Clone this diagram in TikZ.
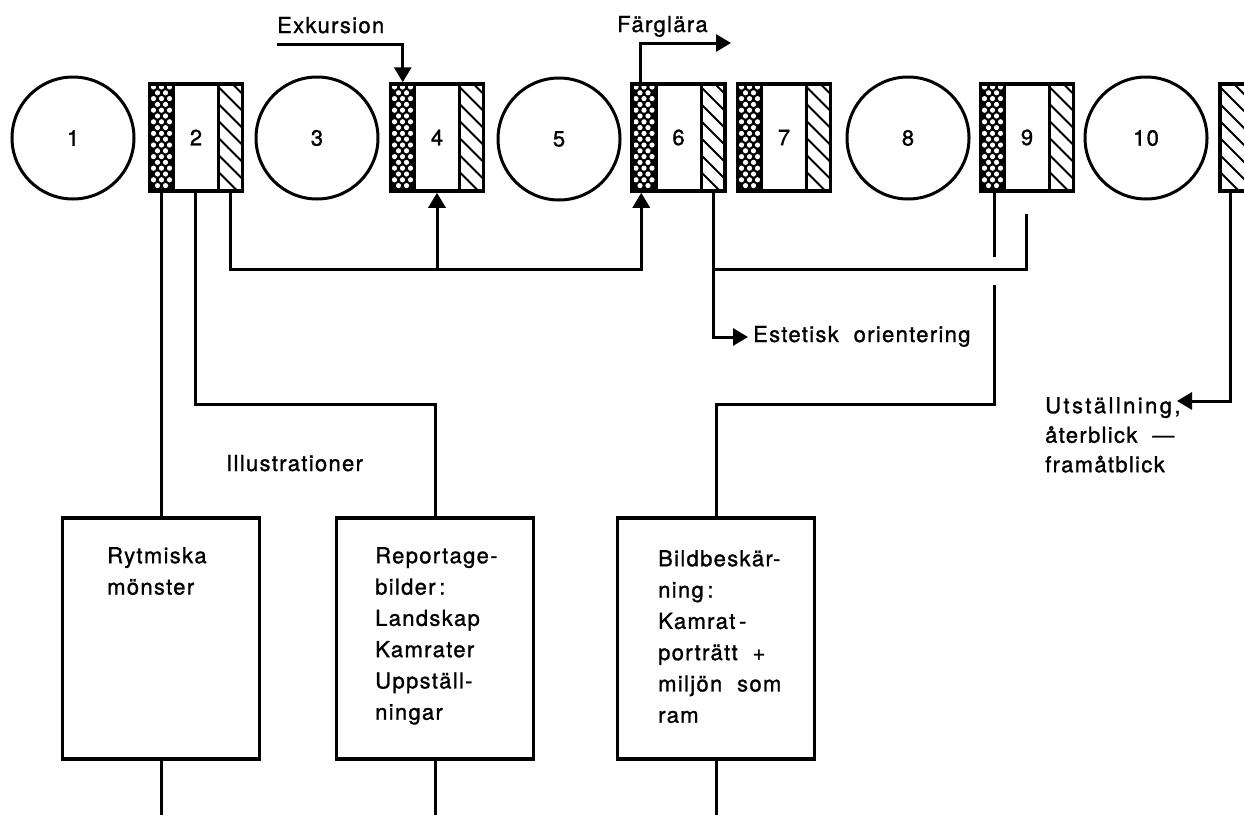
\documentclass[tikz,border=0pt]{standalone}
\usepackage{fontspec}
\setmainfont{TeX Gyre Heros}[LetterSpace=6,FakeBold=1.2]
\usetikzlibrary{arrows.meta,calc}

\newcommand{\dotsleft}{%
  \fill[black] (path picture bounding box.north west) rectangle ([xshift=24pt]path picture bounding box.south west);
  \foreach \r in {0,...,19}{%
    \ifodd\r\relax
      \foreach \c in {8,16}{\fill[white] ([xshift=\c pt,yshift=-3pt-\r*5.8pt]path picture bounding box.north west) circle (2.6pt);}%
    \else
      \foreach \c in {4,12,20}{\fill[white] ([xshift=\c pt,yshift=-3pt-\r*5.8pt]path picture bounding box.north west) circle (2.6pt);}%
    \fi
  }%
  \draw[line width=3pt] ([xshift=24pt]path picture bounding box.north west) -- ([xshift=24pt]path picture bounding box.south west);
}
\newcommand{\hatchat}[1]{%
  \begin{scope}
    \clip ([xshift=#1pt]path picture bounding box.north west) rectangle ([xshift=#1pt+24pt]path picture bounding box.south west);
    \foreach \k in {0,...,10}{\draw[line width=2pt] ([xshift=#1pt-3pt,yshift=34pt-\k*17pt]path picture bounding box.north west) -- ++(32pt,-32pt);}
  \end{scope}
  \draw[line width=3pt] ([xshift=#1pt]path picture bounding box.north west) -- ([xshift=#1pt]path picture bounding box.south west);
}

\tikzset{
  txt/.style={font=\fontsize{22}{26}\selectfont},
  blk/.style={rectangle, draw, line width=3.5pt, minimum width=93pt, minimum height=107pt, inner sep=0pt, txt},
  blkfull/.style={blk, path picture={\dotsleft\hatchat{69}}},
  blkhatch/.style={blk, path picture={\hatchat{0}}},
  rnd/.style={circle, draw, line width=3pt, minimum size=122pt, inner sep=0pt, txt},
  conn/.style={line width=3pt},
  arr/.style={line width=3pt, -{Triangle[length=15pt,width=17pt]}},
  lbl/.style={inner sep=0pt, txt, anchor=base west},
  bx/.style={rectangle, draw, line width=3.5pt, minimum width=197pt, minimum height=241pt, inner sep=0pt},
  boxtext/.style={inner sep=0pt, anchor=north west, align=left, font=\fontsize{22}{31.3}\selectfont},
}

\begin{document}
\begin{tikzpicture}[x=1pt,y=-1pt]
\useasboundingbox (0,0) rectangle (1244,814);
\clip (0,0) rectangle (1244,814);

% top row
\node[rnd] (c1) at (73,138) {1};
\node[blkfull] (b2) at (196,137.5) {2};
\node[rnd] (c3) at (317,138) {3};
\node[blkfull] (b4) at (437,137.5) {4};
\node[rnd] (c5) at (559,139) {5};
\node[blkfull] (b6) at (678.5,137.5) {6};
\node[blkfull] (b7) at (784,137.5) {7};
\node[rnd] (c8) at (908,138) {8};
\node[blkfull] (b9) at (1027,137.5) {9};
\node[rnd] (c10) at (1146,138) {10};
\node[blkhatch] (b11) at (1266.5,137.5) {};

% bottom boxes
\node[bx] (bx1) at (161,638.5) {};
\node[bx] (bx2) at (435,638.5) {};
\node[bx] (bx3) at (716,638.5) {};

\node[boxtext] (t1) at (107,547) {Rytmiska\\mönster};
\node[boxtext] (t2) at (375,547) {Reportage-\\bilder\,:\\Landskap\\Kamrater\\Uppställ-\\ningar};
\node[boxtext] (t3) at (658,550) {Bildbeskär-\\ning\,:\\Kamrat\,-\\porträtt \ +\\miljön \ som\\ram};

% labels
\node[lbl] (exk) at (277,33) {Exkursion};
\node[lbl] (farg) at (617,32) {Färglära};
\node[lbl] (est) at (753,342) {Estetisk \ orientering};
\node[lbl] (ill) at (226,471) {Illustrationer};
\node[boxtext, font=\fontsize{22}{29.5}\selectfont] (utst) at (1045,397) {{\addfontfeature{LetterSpace=11}Utställning,}\\återblick \ —\\framåtblick};
\coordinate (fend) at (731,43);
\coordinate (uend) at (1177,401);

% connectors
\draw[conn] ([xshift=-35pt]b2.south) -- (bx1.north);
\draw[conn] ([xshift=-1pt]b2.south) -- ++(0,212) -| (bx2.north);
\draw[arr] ([xshift=34pt]b2.south) -- ++(0,77) coordinate (j0) -| ([xshift=11pt]b6.south west);
\draw[arr] (j0 -| b4.south) -- (b4.south);
\draw[arr] ([yshift=-11pt]exk.base west) -| ([xshift=14pt]b4.north west);
\draw[arr] ([xshift=10pt]b6.north west) |- (fend);
\draw[arr] ([xshift=34.5pt]b6.south) -- ++(0,77) coordinate (j2) |- ([xshift=-5pt,yshift=5pt]est.base west);
\draw[conn] (j2) -| ([xshift=-1pt,yshift=-21pt]b9.south);
\draw[conn] ([xshift=-33pt]b9.south) -- ++(0,64);
\draw[conn] ([xshift=-33pt,yshift=-92pt]b9.south) -- ++(0,120) -| (bx3.north);
\draw[arr] ([xshift=12pt]b11.south west) |- (uend);
\draw[conn] (bx1.south) -- ++(0,60);
\draw[conn] (bx2.south) -- ++(0,60);
\draw[conn] (bx3.south) -- ++(0,60);
\end{tikzpicture}
\end{document}
